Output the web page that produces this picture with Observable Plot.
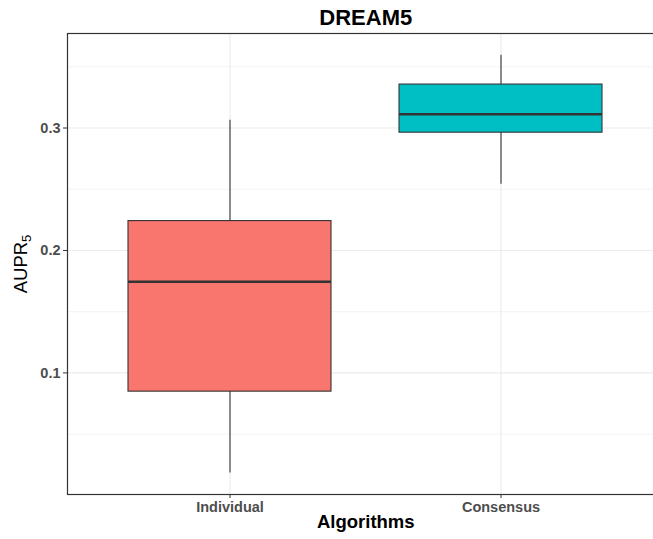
<!DOCTYPE html>
<html><head><meta charset="utf-8">
<script src="https://cdn.jsdelivr.net/npm/d3@7"></script>
<script src="https://cdn.jsdelivr.net/npm/@observablehq/plot@0.6"></script>
<style>html,body{margin:0;padding:0;background:#fff;overflow:hidden;} svg{overflow:hidden;display:block}</style>
</head><body><div id="chart"></div>
<script>
const categories = ["Individual", "Consensus"];
const lowerWhisker = [0.0182, 0.2540];
const q1 = [0.0847, 0.2962];
const median = [0.1744, 0.3112];
const q3 = [0.2240, 0.3355];
const upperWhisker = [0.3063, 0.3594];
const fillColors = ["#F8766D", "#00BFC4"];
const yMajorTicks = [0.1, 0.2, 0.3];
const yMinorTicks = [0.05, 0.15, 0.25, 0.35];
const title = "DREAM5";
const xLabel = "Algorithms";
const yLabel = "AUPR";
const yLabelSub = "5";

const rows = categories.map((c, i) => ({
  category: c, lo: lowerWhisker[i], q1: q1[i], med: median[i], q3: q3[i], hi: upperWhisker[i], fill: fillColors[i]
}));

const chart = Plot.plot({
  width: 653, height: 539,
  marginTop: 33, marginBottom: 45, marginLeft: 67, marginRight: -10.5,
  style: {fontFamily: "'Liberation Sans', Arial, sans-serif", background: "#fff", overflow: "hidden"},
  x: {type: "band", domain: categories, paddingInner: 0, paddingOuter: 0.1, axis: null},
  y: {domain: [0.0007, 0.3772], axis: null},
  color: {type: "identity"},
  marks: [
    Plot.ruleY(yMinorTicks, {stroke: "#EBEBEB", strokeWidth: 0.6}),
    Plot.ruleY(yMajorTicks, {stroke: "#EBEBEB", strokeWidth: 1.1}),
    Plot.ruleX(categories, {x: d => d, stroke: "#EBEBEB", strokeWidth: 1.1}),
    Plot.ruleX(rows, {x: "category", y1: "lo", y2: "hi", stroke: "#333333", strokeWidth: 1.1}),
    Plot.barY(rows, {x: "category", y1: "q1", y2: "q3", fill: "fill", stroke: "#333333", strokeWidth: 1.1, insetLeft: 34, insetRight: 34}),
    Plot.tickY(rows, {x: "category", y: "med", stroke: "#333333", strokeWidth: 2.6, insetLeft: 34, insetRight: 34}),
    Plot.frame({stroke: "#333333", strokeWidth: 1.2}),
    Plot.axisY(yMajorTicks, {tickSize: 4, tickPadding: 3, fontSize: 14.5, fontWeight: "bold", fill: "#4D4D4D", stroke: "#333333", label: null, tickFormat: d => d.toFixed(1)}),
    Plot.axisX(categories, {tickSize: 4, tickPadding: 3, fontSize: 14.5, fontWeight: "bold", fill: "#4D4D4D", stroke: "#333333", label: null}),
    Plot.text([title], {frameAnchor: "top", lineAnchor: "middle", textAnchor: "middle", dy: -16, fontSize: 22, fontWeight: "bold", fill: "#000"}),
    Plot.text([xLabel], {frameAnchor: "bottom", lineAnchor: "middle", textAnchor: "middle", dy: 28, fontSize: 18.5, fontWeight: "bold", fill: "#000"}),
    Plot.text([yLabel], {frameAnchor: "left", lineAnchor: "middle", textAnchor: "middle", dx: -46, rotate: -90, fontSize: 18.5, fill: "#000"})
  ]
});

d3.select(chart).selectAll("text").filter(function() { return this.textContent === yLabel; })
  .append("tspan").attr("dy", "4").attr("font-size", 13).text(yLabelSub);

document.getElementById("chart").appendChild(chart);
</script>
</body></html>
